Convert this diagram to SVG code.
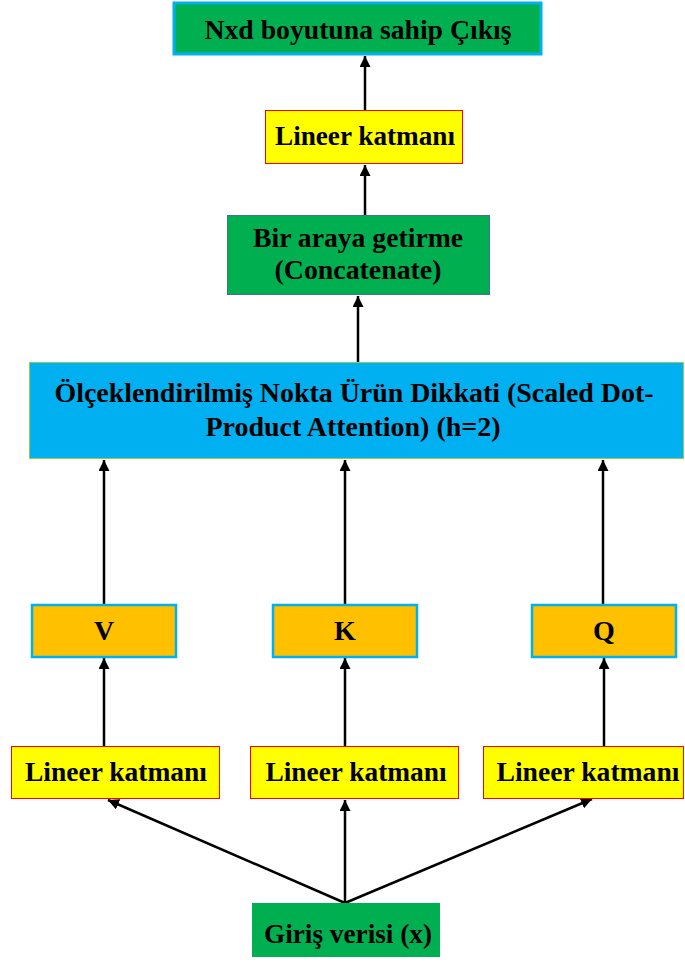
<svg xmlns="http://www.w3.org/2000/svg" width="685" height="963" viewBox="0 0 685 963">
  <defs>
    <marker id="arrow" viewBox="0 0 10 10" refX="10" refY="5" markerWidth="4.4" markerHeight="4.4" markerUnits="strokeWidth" orient="auto">
      <path d="M0,0 L10,5 L0,10 z" fill="#000"/>
    </marker>
    <style>
      .lbl { font-family: "Liberation Serif", "Times New Roman", serif; font-weight: bold; font-size: 28px; fill: #000; text-anchor: middle; }
      .wide { font-size: 27px; }
      .green { fill: #00b050; }
      .yellow { fill: #ffff00; stroke: #ff0000; stroke-width: 1; }
      .orange { fill: #ffc000; stroke: #00b0f0; stroke-width: 2.5; }
      .edge { stroke: #000; stroke-width: 2.5; fill: none; marker-end: url(#arrow); }
    </style>
  </defs>
  <rect width="685" height="963" fill="#fff"/>

  <g id="connectors">
    <line class="edge" x1="365" y1="110" x2="365" y2="56"/>
    <line class="edge" x1="365" y1="215" x2="365" y2="165"/>
    <line class="edge" x1="358" y1="362" x2="358" y2="296"/>
    <line class="edge" x1="104" y1="605" x2="104" y2="460"/>
    <line class="edge" x1="345" y1="605" x2="345" y2="460"/>
    <line class="edge" x1="603" y1="605" x2="603" y2="460"/>
    <line class="edge" x1="104" y1="746" x2="104" y2="658"/>
    <line class="edge" x1="345" y1="746" x2="345" y2="658"/>
    <line class="edge" x1="604" y1="746" x2="604" y2="658"/>
    <line class="edge" x1="345" y1="903" x2="108" y2="800"/>
    <line class="edge" x1="345" y1="903" x2="345" y2="800"/>
    <line class="edge" x1="345" y1="903" x2="592" y2="799"/>
  </g>

  <g id="output">
    <rect class="green" x="174" y="3" width="367" height="51" stroke="#00b0f0" stroke-width="3"/>
    <text class="lbl" x="358" y="39" textLength="307" lengthAdjust="spacingAndGlyphs">Nxd boyutuna sahip Çıkış</text>
  </g>

  <g id="linear-out">
    <rect class="yellow" x="265.5" y="110.5" width="197" height="53"/>
    <text class="lbl" x="365" y="145" textLength="180" lengthAdjust="spacingAndGlyphs">Lineer katmanı</text>
  </g>

  <g id="concat">
    <rect class="green" x="227.5" y="215.5" width="262" height="79" stroke="#41719c" stroke-width="1"/>
    <text class="lbl" x="358" y="247" textLength="210" lengthAdjust="spacingAndGlyphs">Bir araya getirme</text>
    <text class="lbl" x="358" y="279" textLength="167" lengthAdjust="spacingAndGlyphs">(Concatenate)</text>
  </g>

  <g id="attention">
    <rect x="29.5" y="362.5" width="654" height="96" fill="#00b0f0" stroke="#92d050" stroke-width="1"/>
    <text class="lbl wide" x="354" y="402" textLength="599" lengthAdjust="spacingAndGlyphs">Ölçeklendirilmiş Nokta Ürün Dikkati (Scaled Dot-</text>
    <text class="lbl wide" x="353" y="436" textLength="295" lengthAdjust="spacingAndGlyphs">Product Attention) (h=2)</text>
  </g>

  <g id="v">
    <rect class="orange" x="32" y="605" width="144" height="52"/>
    <text class="lbl" x="104" y="640">V</text>
  </g>
  <g id="k">
    <rect class="orange" x="273" y="605" width="144" height="52"/>
    <text class="lbl" x="345" y="640">K</text>
  </g>
  <g id="q">
    <rect class="orange" x="532" y="605" width="144" height="52"/>
    <text class="lbl" x="604" y="640">Q</text>
  </g>

  <g id="linear-v">
    <rect class="yellow" x="11.5" y="746.5" width="208" height="52"/>
    <text class="lbl" x="116" y="781" textLength="182" lengthAdjust="spacingAndGlyphs">Lineer katmanı</text>
  </g>
  <g id="linear-k">
    <rect class="yellow" x="250.5" y="746.5" width="208" height="52"/>
    <text class="lbl" x="356" y="781" textLength="181" lengthAdjust="spacingAndGlyphs">Lineer katmanı</text>
  </g>
  <g id="linear-q">
    <rect class="yellow" x="483.5" y="746.5" width="200" height="52"/>
    <text class="lbl" x="588" y="781" textLength="183" lengthAdjust="spacingAndGlyphs">Lineer katmanı</text>
  </g>

  <g id="input">
    <rect class="green" x="252" y="903" width="188" height="54"/>
    <text class="lbl" x="348" y="943" textLength="168" lengthAdjust="spacingAndGlyphs">Giriş verisi (x)</text>
  </g>
</svg>
